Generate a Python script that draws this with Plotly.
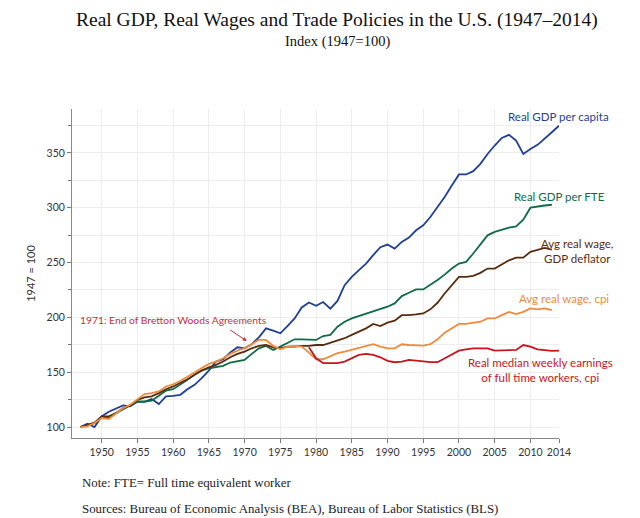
import plotly.graph_objects as go

years = list(range(1947, 2015))

# Real GDP per capita, 1947-2014
gdp_capita = [
    100, 103, 100, 109.7, 114, 116.7, 119.7, 118.8, 123, 123,
    125.5, 121, 128, 128.5, 129.4, 134.5, 138.5, 144.5, 151.5, 159.7,
    161.8, 168, 172.7, 171.8, 175.5, 181.8, 190, 187.9, 185.5, 192,
    199, 209, 213.6, 210.6, 214, 207.9, 215, 229.4, 237, 243,
    249, 256.7, 264, 266.4, 262.7, 268.8, 272.7, 279.4, 284, 291.5,
    300.6, 309.7, 320.3, 330.3, 330.3, 333.3, 340, 349, 356.7, 363.6,
    366.4, 361.2, 349, 353.6, 357.3, 362.7, 368.8, 374.8,
]

# Real GDP per FTE, 1947-2013
gdp_fte = [
    100, 102, 103.6, 109.7, 108.2, 112.7, 116.4, 119.7, 123.3, 123.3,
    124, 128.5, 133.3, 134.5, 138.5, 143, 147.6, 151.5, 153.6, 155,
    155.8, 158.8, 159.7, 161.2, 166.7, 171.8, 174, 170.3, 173.3, 177,
    180, 180, 180, 179.4, 183, 184, 191.5, 196, 199, 201.2,
    203.6, 206, 208.2, 209.7, 212.7, 219.4, 222.4, 225.5, 225.5, 229.4,
    234, 239, 244.5, 249, 250.6, 258.2, 266.7, 274.8, 277.9, 280,
    281.8, 283, 289, 300, 301.2, 302, 302.7,
]

# Avg real wage, GDP deflator, 1947-2013
wage_deflator = [
    100, 102, 104, 109.7, 109.7, 112.7, 117.3, 119.7, 124.8, 127,
    127.9, 130.9, 134.5, 137, 140, 143.6, 147.6, 151.5, 154.5, 156.7,
    159.7, 163.6, 166.7, 168.8, 171.8, 174, 174.8, 172.7, 171.8, 173.3,
    173.3, 174, 174, 174.8, 174.8, 177, 179.4, 181, 184, 187,
    190, 194, 192, 195.2, 197, 202, 202, 202.7, 203.6, 207.3,
    213.3, 221.8, 229.4, 237, 237, 237.9, 240.6, 244.5, 244.5, 248.5,
    252, 254.5, 254.5, 259.7, 261.2, 263.3, 261.8,
]

# Avg real wage, cpi, 1947-2013
wage_cpi = [
    100, 100.6, 103.6, 108.2, 107.3, 112, 117.3, 120.3, 125.5, 130,
    130.9, 132.4, 137, 139, 142, 146, 150, 153.6, 157.6, 159.7,
    162.7, 166.7, 169.7, 171.8, 175.5, 179.4, 179.4, 174, 170.9, 173.3,
    174, 173.3, 167.9, 161.8, 161.8, 164.8, 167.3, 168.8, 170.5, 171.8,
    174, 175.5, 173.3, 171.8, 171.8, 175.5, 174.8, 174.2, 174.2, 175.5,
    180, 186, 190, 194, 194, 195.2, 196, 199, 199, 202,
    205, 203, 205, 208.2, 207.3, 208.2, 206.7,
]

# Real median weekly earnings of full time workers, cpi, 1979-2014
median_years = list(range(1979, 2015))
median_earnings = [
    172.7, 162.7, 158.2, 158.2, 158.2, 159.7, 162.5, 165.8, 166.7, 165.8,
    163.6, 160.3, 159.1, 159.7, 161.2, 160.3, 159.7, 159.1, 159.1, 162.7,
    166.4, 169.7, 170.9, 171.8, 171.8, 171.8, 169.7, 169.7, 170.3, 170.3,
    174.8, 173.3, 170.9, 170.3, 169.4, 169.7,
]

series = [
    ("Real GDP per capita", years, gdp_capita, "#1f3f95"),
    ("Real GDP per FTE", years[:-1], gdp_fte, "#0d6b48"),
    ("Avg real wage, GDP deflator", years[:-1], wage_deflator, "#5a2c0e"),
    ("Avg real wage, cpi", years[:-1], wage_cpi, "#f08a3c"),
    ("Real median weekly earnings", median_years, median_earnings, "#c4161c"),
]

# end-of-line labels: (text, page x, page y, colour)
line_labels = [
    ("Real GDP per capita", 558.5, 116, "#1f3f95"),
    ("Real GDP per FTE", 559, 196, "#0d6b48"),
    ("Avg real wage,<br>GDP deflator", 577, 250.5, "#5a2c0e"),
    ("Avg real wage, cpi", 564, 298.3, "#f08a3c"),
    ("Real median weekly earnings<br>of full time workers, cpi", 540, 370, "#c4161c"),
]

# the page puts the figure 8px in from the top-left corner
W, H = 632, 510
L, R, T, B = 64, 81, 101, 80
plot_h = H - T - B
plot_w = W - L - R


def px_to_paper(xp, yp):
    # page pixel -> paper coordinates
    return (xp - 8 - L) / plot_w, (H - B - (yp - 8)) / plot_h


fig = go.Figure()
for name, xs, ys, color in series:
    fig.add_trace(go.Scatter(x=xs, y=ys, mode="lines", name=name,
                             line=dict(color=color, width=1.8)))

for text, xp, yp, color in line_labels:
    lx, ly = px_to_paper(xp, yp)
    fig.add_annotation(xref="paper", yref="paper", x=lx, y=ly, text=text,
                       showarrow=False, xanchor="center", yanchor="middle",
                       font=dict(family="Lato", size=11.5, color=color))

fig.add_annotation(x=1960, y=197.6, text="1971: End of Bretton Woods Agreements",
                   showarrow=False, font=dict(family="Lato", size=10.3, color="#c8303a"))
fig.add_annotation(x=1970.3, y=178.5, ax=-18, ay=-12, text="",
                   showarrow=True, arrowhead=2, arrowsize=0.8, arrowwidth=1,
                   arrowcolor="#c8303a")

# title and subtitle
tx, ty = px_to_paper(337, 20)
fig.add_annotation(xref="paper", yref="paper", x=tx, y=ty, showarrow=False,
                   text="Real GDP, Real Wages and Trade Policies in the U.S. (1947–2014)",
                   xanchor="center", yanchor="middle",
                   font=dict(family="Liberation Serif", size=19.5, color="#111"))
sx, sy = px_to_paper(337, 41)
fig.add_annotation(xref="paper", yref="paper", x=sx, y=sy, showarrow=False,
                   text="Index (1947=100)", xanchor="center", yanchor="middle",
                   font=dict(family="Liberation Serif", size=14.5, color="#111"))

notes = [
    ("Note: FTE= Full time equivalent worker", 483),
    ("Sources: Bureau of Economic Analysis (BEA), Bureau of Labor Statistics (BLS)", 509),
]
for text, ypx in notes:
    nx, ny = px_to_paper(80, ypx)
    fig.add_annotation(xref="paper", yref="paper", x=nx, y=ny, text=text,
                       showarrow=False, xanchor="left", yanchor="middle",
                       font=dict(family="Liberation Serif", size=12.9, color="#222"))

fig.update_layout(
    width=W, height=H,
    margin=dict(l=L, r=R, t=T, b=B),
    paper_bgcolor="white", plot_bgcolor="white",
    showlegend=False,
    font=dict(family="Lato", size=10, color="#333"),
)

fig.update_xaxes(
    range=[1945.85, 2014],
    tickvals=[1950, 1955, 1960, 1965, 1970, 1975, 1980, 1985, 1990, 1995,
              2000, 2005, 2010, 2014],
    ticks="outside", ticklen=4, tickcolor="#777",
    showline=True, linecolor="#888", linewidth=1,
    showgrid=True, gridcolor="#ededed", zeroline=False,
    tickfont=dict(size=10.5, color="#333"),
)
fig.update_yaxes(
    range=[90, 390], dtick=50, tick0=0,
    ticks="outside", ticklen=4, tickcolor="#777",
    minor=dict(dtick=25, ticks="outside", ticklen=3, tickcolor="#777",
               showgrid=True, gridcolor="#ededed"),
    showline=True, linecolor="#888", linewidth=1,
    showgrid=True, gridcolor="#ededed", zeroline=False,
    tickfont=dict(size=10.5, color="#333"),
    title=dict(text="1947 = 100", font=dict(size=11, color="#333"), standoff=8),
)

fig.write_html("out.html")
